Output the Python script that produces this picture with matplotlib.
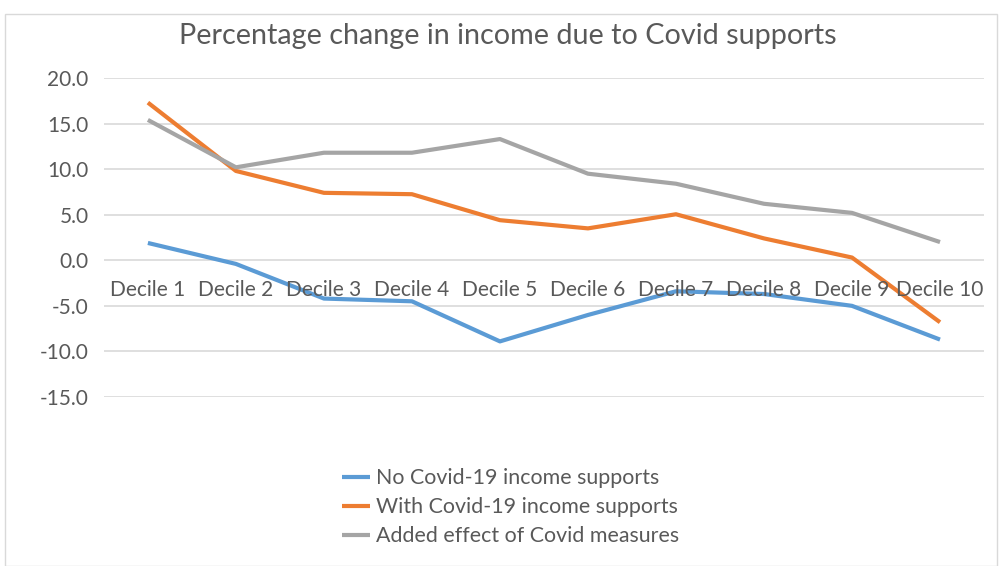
import numpy as np
import matplotlib.pyplot as plt
from matplotlib.patches import Rectangle

plt.rcParams['font.family'] = ['Lato', 'DejaVu Sans']

deciles = ['Decile 1', 'Decile 2', 'Decile 3', 'Decile 4', 'Decile 5',
           'Decile 6', 'Decile 7', 'Decile 8', 'Decile 9', 'Decile 10']
no_support = [1.9, -0.4, -4.2, -4.5, -8.9, -6.0, -3.4, -3.7, -5.0, -8.7]
with_support = [17.3, 9.8, 7.4, 7.25, 4.4, 3.5, 5.05, 2.4, 0.3, -6.8]
added_effect = [15.4, 10.2, 11.8, 11.8, 13.3, 9.5, 8.4, 6.2, 5.2, 2.0]

names = ['No Covid-19 income supports', 'With Covid-19 income supports',
         'Added effect of Covid measures']
colours = ['#5B9BD5', '#ED7D31', '#A5A5A5']

fig = plt.figure(figsize=(9.99, 5.66), dpi=100)
ax = fig.add_axes([0.104, 0.2986, 0.881, 0.5636])

x = np.arange(len(deciles))
for vals, name, c in zip([no_support, with_support, added_effect], names, colours):
    ax.plot(x, vals, color=c, linewidth=3, label=name, solid_capstyle='butt')

ax.set_xlim(-0.5, len(deciles) - 0.5)
ax.set_ylim(-15, 20)
ax.set_yticks(np.arange(-15, 21, 5))
ax.set_yticklabels(['%.1f' % v for v in np.arange(-15, 21, 5)])
ax.grid(axis='y', color='#D9D9D9', linewidth=1.2)
ax.set_axisbelow(True)
for s in ax.spines.values():
    s.set_visible(False)
ax.tick_params(axis='y', length=0, labelsize=15, labelcolor='#595959', pad=11)

# category labels sit just under the zero line, like Excel
ax.set_xticks([])
for xi, lab in zip(x, deciles):
    ax.annotate(lab, (xi, 0), xytext=(0, -14), textcoords='offset points',
                ha='center', va='top', fontsize=15, color='#595959')

fig.text(0.508, 0.937, 'Percentage change in income due to Covid supports',
         ha='center', va='center', fontsize=20.7, color='#595959')

fig.legend(loc='center', bbox_to_anchor=(0.511, 0.104), frameon=False,
           fontsize=15.4, handlelength=1.3, handletextpad=0.3, labelspacing=0.42,
           labelcolor='#595959')

fig.patches.append(Rectangle((0.005, 0.0), 0.993, 0.975, transform=fig.transFigure,
                             fill=False, edgecolor='#D9D9D9', linewidth=1))

fig.savefig('out.png', dpi=100)
